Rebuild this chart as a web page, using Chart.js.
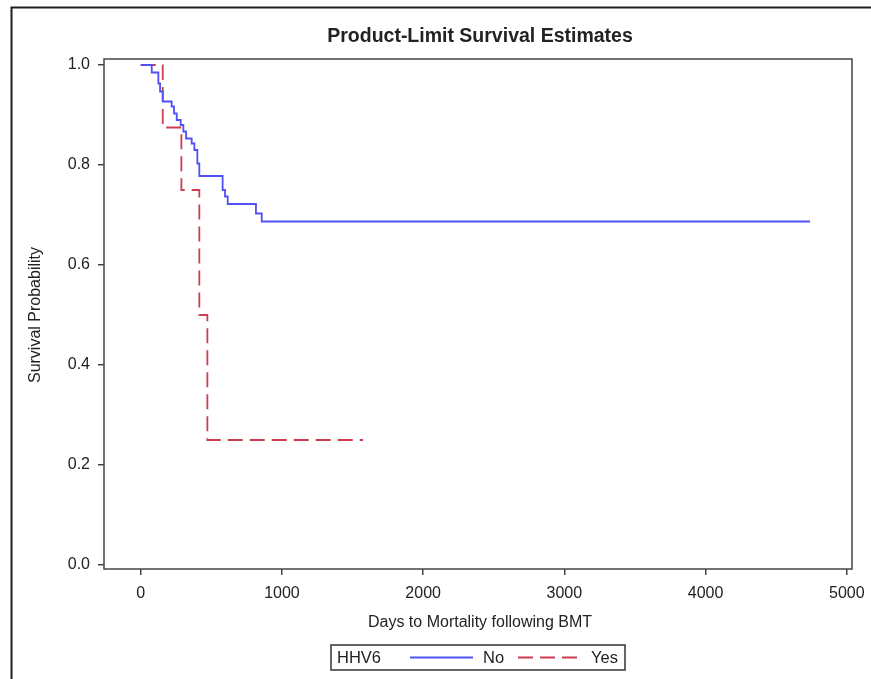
<!DOCTYPE html>
<html>
<head>
<meta charset="utf-8">
<title>Product-Limit Survival Estimates</title>
<script src="https://cdn.jsdelivr.net/npm/chart.js"></script>
<style>
    html, body { margin: 0; padding: 0; background: #fff; }
    #wrap { position: relative; width: 871px; height: 679px; }
</style>
</head>
<body>
<div id="wrap"><canvas id="kmChart" width="871" height="679"></canvas></div>
<script>
// Kaplan-Meier estimates (days, survival after the step)
const noDays = [0, 78, 125, 137, 156, 219, 236, 255, 283, 302, 321, 361, 380, 401, 415, 580, 597, 616, 816, 857, 4740];
const noSurv = [1.0, 0.985, 0.963, 0.947, 0.927, 0.917, 0.903, 0.89, 0.88, 0.867, 0.853, 0.843, 0.83, 0.803, 0.778, 0.75, 0.737, 0.722, 0.703, 0.687, 0.687];

const yesDays = [0, 156, 288, 415, 472, 1574];
const yesSurv = [1.0, 0.875, 0.75, 0.5, 0.25, 0.25];

const xTicks = [0, 1000, 2000, 3000, 4000, 5000];
const yTicks = [0.0, 0.2, 0.4, 0.6, 0.8, 1.0];

const groupLabels = ['No', 'Yes'];
const legendTitle = 'HHV6';

const BLUE = 'rgb(80, 80, 245)';
const RED = 'rgb(205, 60, 80)';
const INK = '#222';
const FONT = '"Liberation Sans", Arial, sans-serif';

const toPoints = (xs, ys) => xs.map((x, i) => ({ x: x, y: ys[i] }));

// Texts, frame and legend drawn at fixed spots, like the SAS output
const sasDecor = {
    id: 'sasDecor',
    afterDraw(chart) {
        const { ctx, chartArea: a } = chart;
        ctx.save();

        // outer page frame (top and left)
        ctx.strokeStyle = '#1e1e1e';
        ctx.lineWidth = 2;
        ctx.beginPath();
        ctx.moveTo(871, 7.5);
        ctx.lineTo(11.5, 7.5);
        ctx.lineTo(11.5, 679);
        ctx.stroke();

        // plot box
        ctx.strokeStyle = '#444';
        ctx.lineWidth = 1.5;
        ctx.strokeRect(a.left, a.top, a.right - a.left, a.bottom - a.top);

        ctx.fillStyle = INK;
        ctx.textBaseline = 'middle';

        // title
        ctx.font = 'bold 19.5px ' + FONT;
        ctx.textAlign = 'center';
        ctx.fillText('Product-Limit Survival Estimates', 480, 37);

        // axis titles
        ctx.font = '16px ' + FONT;
        ctx.fillText('Days to Mortality following BMT', 480, 623);
        ctx.save();
        ctx.translate(36, 315);
        ctx.rotate(-Math.PI / 2);
        ctx.fillText('Survival Probability', 0, 0);
        ctx.restore();

        // legend
        ctx.strokeStyle = '#333';
        ctx.lineWidth = 1.5;
        ctx.strokeRect(331, 645, 294, 25);
        ctx.font = '16.5px ' + FONT;
        ctx.textAlign = 'left';
        ctx.fillText(legendTitle, 337, 658);

        ctx.lineWidth = 1.8;
        ctx.strokeStyle = BLUE;
        ctx.beginPath();
        ctx.moveTo(410, 657.5);
        ctx.lineTo(473, 657.5);
        ctx.stroke();
        ctx.fillText(groupLabels[0], 483, 658);

        ctx.strokeStyle = RED;
        ctx.setLineDash([15, 7]);
        ctx.beginPath();
        ctx.moveTo(518, 657.5);
        ctx.lineTo(579, 657.5);
        ctx.stroke();
        ctx.setLineDash([]);
        ctx.fillText(groupLabels[1], 591, 658);

        ctx.restore();
    }
};

const tickGrid = {
    display: true,
    drawOnChartArea: false,
    drawTicks: true,
    tickLength: 6,
    color: '#444',
    lineWidth: 1.5
};

new Chart(document.getElementById('kmChart'), {
    type: 'line',
    data: {
        datasets: [
            {
                label: groupLabels[0],
                data: toPoints(noDays, noSurv),
                borderColor: BLUE,
                borderWidth: 1.8,
                stepped: 'before',
                pointRadius: 0,
                fill: false
            },
            {
                label: groupLabels[1],
                data: toPoints(yesDays, yesSurv),
                borderColor: RED,
                borderWidth: 1.8,
                borderDash: [15, 7],
                stepped: 'before',
                pointRadius: 0,
                fill: false
            }
        ]
    },
    options: {
        responsive: false,
        animation: false,
        layout: { padding: { top: 59, left: 0, right: 19, bottom: 0 } },
        plugins: {
            legend: { display: false },
            title: { display: false },
            tooltip: { enabled: false }
        },
        scales: {
            x: {
                type: 'linear',
                min: -260,
                max: 5037,
                afterBuildTicks: (scale) => { scale.ticks = xTicks.map(v => ({ value: v })); },
                afterFit: (scale) => {
                    scale.height = 110;
                    scale.paddingLeft = 0;
                    scale.paddingRight = 0;
                },
                grid: tickGrid,
                border: { display: false },
                ticks: {
                    color: INK,
                    padding: 9,
                    maxRotation: 0,
                    font: { family: FONT, size: 16 },
                    callback: (v) => String(v)
                }
            },
            y: {
                type: 'linear',
                min: -0.008,
                max: 1.012,
                afterBuildTicks: (scale) => { scale.ticks = yTicks.map(v => ({ value: v })); },
                afterFit: (scale) => {
                    scale.width = 104;
                    scale.paddingTop = 0;
                    scale.paddingBottom = 0;
                },
                grid: tickGrid,
                border: { display: false },
                ticks: {
                    color: INK,
                    padding: 8,
                    font: { family: FONT, size: 16 },
                    callback: (v) => Number(v).toFixed(1)
                }
            }
        }
    },
    plugins: [sasDecor]
});
</script>
</body>
</html>
